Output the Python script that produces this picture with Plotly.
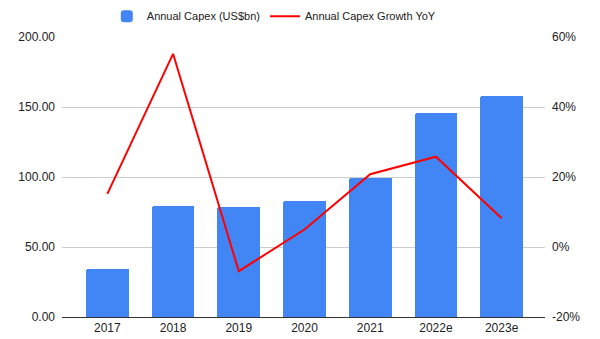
import plotly.graph_objects as go

categories = ["2017", "2018", "2019", "2020", "2021", "2022e", "2023e"]
capex = [34.2, 79.1, 78.4, 82.7, 99.6, 146.0, 157.6]
growth = [15.2, 55.2, -6.9, 5.0, 20.8, 25.8, 8.2]
left_ticks = [0, 50, 100, 150, 200]
right_ticks = [-20, 0, 20, 40, 60]

font = "Liberation Sans, Arial, sans-serif"

fig = go.Figure()
fig.add_trace(go.Bar(
    x=list(range(len(categories))), y=capex, name="Annual Capex (US$bn)",
    marker=dict(color="#4285f4", cornerradius=2, line=dict(width=0)),
    width=0.65, yaxis="y",
))
fig.add_trace(go.Scatter(
    x=list(range(len(categories))), y=growth, name="Annual Capex Growth YoY",
    mode="lines", line=dict(color="#ff0000", width=2), yaxis="y2",
))

fig.update_layout(
    width=600, height=339,
    margin=dict(l=62, r=55, t=36.5, b=22, autoexpand=False),
    paper_bgcolor="white", plot_bgcolor="white",
    font=dict(family=font, size=12, color="#222222"),
    showlegend=True,
    legend=dict(orientation="h", x=0.178, xanchor="left", xref="container",
                y=0.995, yanchor="top",
                yref="container", font=dict(size=11, color="#222222"),
                itemwidth=30, bgcolor="rgba(0,0,0,0)"),
    xaxis=dict(
        tickmode="array", tickvals=list(range(len(categories))), ticktext=categories,
        range=[-0.69, 6.66], showgrid=False, zeroline=False, automargin=False,
        showline=True, linecolor="#333333", linewidth=1, ticks="",
        tickfont=dict(size=12, color="#222222"),
    ),
    yaxis=dict(
        range=[0, 200], tickvals=left_ticks, automargin=False,
        ticktext=[f"{v:.2f}" for v in left_ticks],
        showgrid=True, gridcolor="#cccccc", gridwidth=1, zeroline=False,
        ticks="", ticklabelstandoff=6, tickfont=dict(size=12, color="#222222"),
    ),
    yaxis2=dict(
        range=[-20, 60], tickvals=right_ticks, automargin=False,
        ticktext=[f"{v}%" for v in right_ticks],
        overlaying="y", side="right", showgrid=False, zeroline=False,
        ticks="", ticklabelstandoff=6, tickfont=dict(size=12, color="#222222"),
    ),
    bargap=0,
)

fig.write_html("out.html")
